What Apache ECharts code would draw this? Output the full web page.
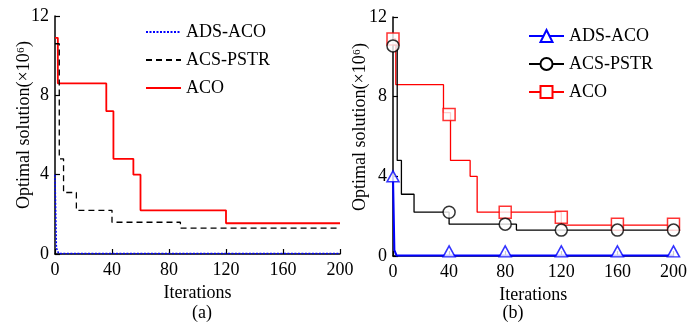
<!DOCTYPE html>
<html>
<head>
<meta charset="utf-8">
<script src="https://cdn.jsdelivr.net/npm/echarts@6/dist/echarts.min.js"></script>
<style>
html,body{margin:0;padding:0;background:#fff;}
#c{width:690px;height:325px;}
</style>
</head>
<body>
<div id="c"></div>
<script>
// ---- data ----
const seriesNames = ['ADS-ACO', 'ACS-PSTR', 'ACO'];
const xTicks = [0, 40, 80, 120, 160, 200];
const yTicks = [0, 4, 8, 12];

// ADS-ACO curve vertices
const adsX = [0, 1, 2.5, 200];
const adsY = [4.0, 0.3, 0.03, 0.03];
// ACS-PSTR step breakpoints (value holds until next x)
const acsX = [0, 3, 6, 15, 40, 88, 200];
const acsY = [10.6, 4.8, 3.1, 2.2, 1.6, 1.3, 1.3];
// ACO step breakpoints
const acoX = [0, 2, 36, 41, 55, 60, 120, 200];
const acoY = [10.9, 8.6, 7.2, 4.8, 4.0, 2.2, 1.55, 1.55];

// marker positions in panel (b)
const markX = [0, 40, 80, 120, 160, 200];
const adsMarkY = [3.8, 0.03, 0.03, 0.03, 0.03, 0.03];
const acsMarkY = [10.55, 2.2, 1.6, 1.3, 1.3, 1.3];
const acoMarkY = [10.9, 7.1, 2.2, 1.95, 1.6, 1.6];

const panelLabels = ['(a)', '(b)'];
const xName = 'Iterations';
const yName = 'Optimal solution(×10⁶)';

// ---- build ----
const zip = (xs, ys) => xs.map((x, i) => [x, ys[i]]);
const FONT = 'Liberation Serif, Times New Roman, serif';
const FS = 18;
const BLUE = '#0000ff', RED = '#ff0000', BLACK = '#000000';
const SUF = '\u200b(b)';

function xAxis(gi) {
  return {
    type: 'value', gridIndex: gi, min: 0, max: 200, interval: 40,
    name: xName, nameLocation: 'middle', nameGap: 24,
    nameTextStyle: {fontFamily: FONT, fontSize: FS, color: '#000'},
    axisLine: {lineStyle: {color: '#000', width: 1.5}},
    axisTick: {inside: true, length: 5, lineStyle: {color: '#000', width: 1.2}},
    axisLabel: {fontFamily: FONT, fontSize: FS, color: '#000', margin: 7},
    splitLine: {show: false}
  };
}
function yAxis(gi) {
  return {
    type: 'value', gridIndex: gi, min: 0, max: 12, interval: 4,
    axisLine: {show: true, lineStyle: {color: '#000', width: 1.5}},
    axisTick: {show: true, inside: true, length: 5, lineStyle: {color: '#000', width: 1.2}},
    axisLabel: {fontFamily: FONT, fontSize: FS, color: '#000', margin: 6},
    splitLine: {show: false}
  };
}
function yTitle(cx, cy) {
  return {type: 'text', x: cx, y: cy, rotation: Math.PI / 2,
    style: {text: yName, fontFamily: FONT, fontSize: FS, fill: '#000', align: 'center', verticalAlign: 'middle'}};
}

const option = {
  animation: false,
  backgroundColor: '#fff',
  grid: [
    {left: 55, right: 350, top: 16, bottom: 71},
    {left: 393, right: 13, top: 17, bottom: 69}
  ],
  xAxis: [xAxis(0), xAxis(1)],
  yAxis: [yAxis(0), yAxis(1)],
  graphic: [yTitle(24, 125), yTitle(360, 127)],
  title: [
    {text: panelLabels[0], left: 202, top: 303, textAlign: 'center', padding: 0,
     textStyle: {fontFamily: FONT, fontSize: FS, fontWeight: 'normal', color: '#000', lineHeight: 20}},
    {text: panelLabels[1], left: 513, top: 303, textAlign: 'center', padding: 0,
     textStyle: {fontFamily: FONT, fontSize: FS, fontWeight: 'normal', color: '#000', lineHeight: 20}}
  ],
  legend: [
    {
      data: seriesNames, orient: 'vertical', left: 145, top: 23, padding: 0,
      itemWidth: 35, itemHeight: 14, itemGap: 10, itemTextGap: 4,
      itemStyle: {opacity: 0},
      textStyle: {fontFamily: FONT, fontSize: FS, color: '#000'},
      selectedMode: false
    },
    {
      data: seriesNames.map(n => n + SUF), orient: 'vertical', left: 528, top: 27, padding: 0,
      itemWidth: 35, itemHeight: 15, itemGap: 10, itemTextGap: 4,
      formatter: n => n.replace(SUF, ''),
      textStyle: {fontFamily: FONT, fontSize: FS, color: '#000'},
      selectedMode: false
    }
  ],
  series: [
    // panel (a)
    {name: seriesNames[0], type: 'line', xAxisIndex: 0, yAxisIndex: 0, data: zip(adsX, adsY),
     symbol: 'none', lineStyle: {color: BLUE, width: 1.5, type: [2, 1.5]}, itemStyle: {color: BLUE}, z: 4},
    {name: seriesNames[1], type: 'line', step: 'end', xAxisIndex: 0, yAxisIndex: 0, data: zip(acsX, acsY),
     symbol: 'none', lineStyle: {color: BLACK, width: 1.3, type: [6, 4]}, itemStyle: {color: BLACK}, z: 3},
    {name: seriesNames[2], type: 'line', step: 'end', xAxisIndex: 0, yAxisIndex: 0, data: zip(acoX, acoY),
     symbol: 'none', lineStyle: {color: RED, width: 1.8}, itemStyle: {color: RED}, z: 2},
    // panel (b)
    {name: seriesNames[0] + SUF, type: 'line', xAxisIndex: 1, yAxisIndex: 1, data: zip(adsX, adsY),
     symbol: 'triangle', showSymbol: false, lineStyle: {color: BLUE, width: 2},
     itemStyle: {color: '#fff', borderColor: BLUE, borderWidth: 1.5}, z: 4},
    {name: seriesNames[1] + SUF, type: 'line', step: 'end', xAxisIndex: 1, yAxisIndex: 1, data: zip(acsX, acsY),
     symbol: 'circle', showSymbol: false, lineStyle: {color: BLACK, width: 1.3},
     itemStyle: {color: '#fff', borderColor: BLACK, borderWidth: 1.5}, z: 3},
    {name: seriesNames[2] + SUF, type: 'line', step: 'end', xAxisIndex: 1, yAxisIndex: 1, data: zip(acoX, acoY),
     symbol: 'rect', showSymbol: false, lineStyle: {color: RED, width: 1.3},
     itemStyle: {color: '#fff', borderColor: RED, borderWidth: 1.5}, z: 2},
    // markers (b)
    {type: 'scatter', xAxisIndex: 1, yAxisIndex: 1, data: zip(markX, acoMarkY), symbol: 'rect', symbolSize: 12,
     itemStyle: {color: '#fff', borderColor: RED, borderWidth: 1.5}, z: 5},
    {type: 'scatter', xAxisIndex: 1, yAxisIndex: 1, data: zip(markX, acsMarkY), symbol: 'circle', symbolSize: 12,
     itemStyle: {color: '#fff', borderColor: BLACK, borderWidth: 1.5}, z: 6},
    {type: 'scatter', xAxisIndex: 1, yAxisIndex: 1, data: zip(markX, adsMarkY), symbol: 'triangle', symbolSize: [12, 11],
     symbolOffset: [0, -4], itemStyle: {color: '#fff', borderColor: BLUE, borderWidth: 1.5}, z: 7}
  ]
};

const chart = echarts.init(document.getElementById('c'), null, {renderer: 'canvas'});
chart.setOption(option);
</script>
</body>
</html>
